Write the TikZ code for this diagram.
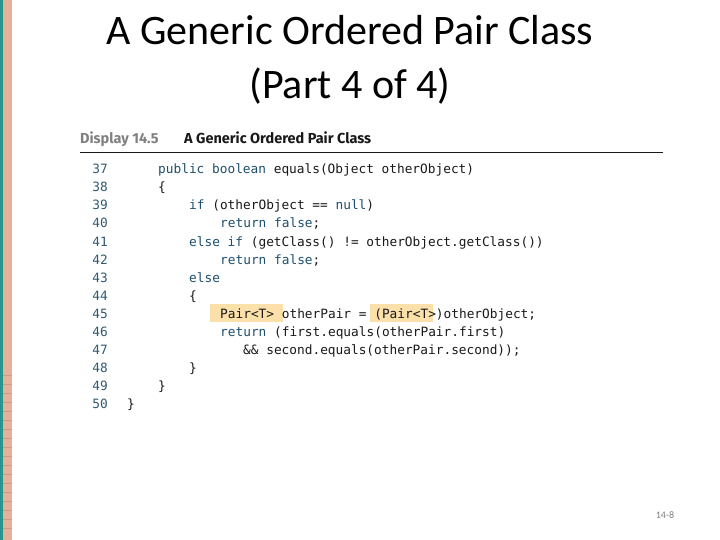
\documentclass[tikz,border=0pt]{standalone}
\usepackage{fontspec}
\setmainfont{Carlito}
\newfontfamily\codefont{DejaVu Sans Mono}
\newfontfamily\headfont{Fira Sans}
\usepackage{tikz}
\definecolor{kw}{RGB}{30,80,110}
\definecolor{txt}{RGB}{25,25,25}
\definecolor{hl}{RGB}{252,224,170}
\definecolor{teal}{RGB}{40,150,140}
\definecolor{salmon}{RGB}{228,178,155}
\newcommand{\kw}[1]{\textcolor{kw}{#1}}
\tikzset{
  code/.style={anchor=base west,inner sep=0pt,font=\codefont\fontsize{12.8}{14}\selectfont,text=txt},
  lineno/.style={anchor=base east,inner sep=0pt,font=\codefont\fontsize{12.8}{14}\selectfont,text=kw!80!gray},
  header/.style={anchor=base west,inner sep=0pt,font=\headfont\bfseries\fontsize{14.5}{16}\selectfont},
}
\begin{document}
\begin{tikzpicture}[x=1pt,y=1pt,yscale=-1]
        \useasboundingbox (0,0) rectangle (720,540);
        \fill[white] (0,0) rectangle (720,540);
        % side strip
        \fill[teal] (0,0) rectangle (3,540);
        \fill[salmon] (3,0) rectangle (12,540);
        \foreach \y in {375,384,393,402,411,420,429,438,447,456,465,474,483,492,501,510,519,528}
          \draw[salmon!70!black,opacity=0.4] (3,\y) -- (12,\y);
        % title
        \node (title) at (350,60) [align=center,font=\fontsize{42}{54}\selectfont] {A Generic Ordered Pair Class\\(Part 4 of 4)};
        % header
        \node[header,text=gray] (disp) at (80,144) {Display 14.5};
        \node[header,text=txt] (head) at (184,144) {A Generic Ordered Pair Class};
        \draw[line width=1pt,txt] (80,153) -- (663,153);
        % highlights
        \fill[hl] (210,304) rectangle (283,322);
        \fill[hl] (370,304) rectangle (433,322);
        % line numbers
        \foreach \n [count=\i from 0] in {37,...,50}
          \node[lineno] (n\n) at (108,174+18*\i) {\n};
        % code
        \node[code] (c37) at (158,174) {\kw{public boolean} equals(Object otherObject)};
        \node[code] (c38) at (158,192) {\{};
        \node[code] (c39) at (189,210) {\kw{if} (otherObject == \kw{null})};
        \node[code] (c40) at (220,228) {\kw{return false};};
        \node[code] (c41) at (189,246) {\kw{else if} (getClass() != otherObject.getClass())};
        \node[code] (c42) at (220,264) {\kw{return false};};
        \node[code] (c43) at (189,282) {\kw{else}};
        \node[code] (c44) at (189,300) {\{};
        \node[code] (c45) at (220,318) {Pair<T> otherPair = (Pair<T>)otherObject;};
        \node[code] (c46) at (220,336) {\kw{return} (first.equals(otherPair.first)};
        \node[code] (c47) at (243,354) {\&\& second.equals(otherPair.second));};
        \node[code] (c48) at (189,372) {\}};
        \node[code] (c49) at (158,390) {\}};
        \node[code] (c50) at (127,408) {\}};
        % page number
        \node (page) at (665,515) [font=\fontsize{10}{12}\selectfont,text=gray] {14-8};
\end{tikzpicture}
\end{document}
